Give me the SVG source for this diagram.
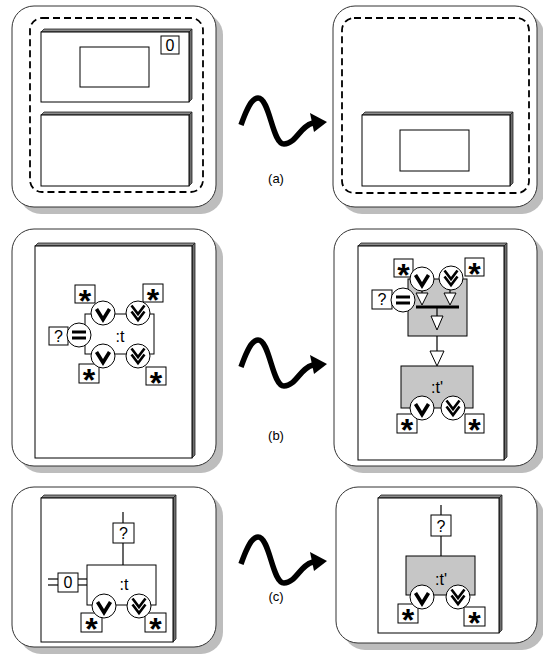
<svg xmlns="http://www.w3.org/2000/svg" width="543" height="660" viewBox="0 0 543 660">
<style>
.shadow{fill:#bdbdbd}
.panel{fill:#fff;stroke:#333;stroke-width:1}
.dash{fill:none;stroke:#000;stroke-width:1.8;stroke-dasharray:7 4}
.face{fill:#fff;stroke:#000;stroke-width:1}
.topb{fill:#8a8a8a;stroke:#222;stroke-width:0.8}
.sideb{fill:#6e6e6e;stroke:#222;stroke-width:0.8}
.box{fill:#fff;stroke:#000;stroke-width:1}
.gray{fill:#c6c6c6;stroke:#000;stroke-width:1}
.port{fill:#fff;stroke:#000;stroke-width:1}
.chev{fill:none;stroke:#000;stroke-width:3.6;stroke-linejoin:miter;stroke-miterlimit:10}
.chev2{fill:none;stroke:#000;stroke-width:2.6;stroke-linejoin:miter;stroke-miterlimit:10}
.eq{stroke:#000;stroke-width:3}
.ln{fill:none;stroke:#000;stroke-width:1.2}
.tri{fill:#fff;stroke:#000;stroke-width:1}
.bar{stroke:#000;stroke-width:3}
.sq{fill:none;stroke:#000;stroke-width:5.5;stroke-linecap:butt}
.txt{font-family:"Liberation Sans",Arial,sans-serif;font-size:16px;fill:#000;text-anchor:middle}
.lbl{font-family:"Liberation Sans",Arial,sans-serif;font-size:13px;fill:#000;text-anchor:middle}
.star{font-family:"Liberation Sans",Arial,sans-serif;font-weight:bold;font-size:32px;fill:#000;text-anchor:middle}
</style>
<defs>
<g id="vmark"><polyline class="chev" points="-6.5,-5 0,5.5 6.5,-5"/></g>
<g id="vvmark"><polyline class="chev2" points="-6.5,-7.5 0,1 6.5,-7.5"/><polyline class="chev2" points="-6.5,-1.5 0,7 6.5,-1.5"/></g>
<g id="eqmark"><line class="eq" x1="-7" y1="-3" x2="7" y2="-3"/><line class="eq" x1="-7" y1="3" x2="7" y2="3"/></g>
</defs>

<!-- ===== panels ===== -->
<g id="panel-a-left">
<rect class="shadow" x="19" y="13" width="204" height="201" rx="22"/>
<rect class="panel" x="12" y="6" width="204" height="201" rx="22"/>
<rect class="dash" x="30" y="18" width="173" height="174" rx="12"/>
</g>
<g id="panel-a-right">
<rect class="shadow" x="340" y="13" width="204" height="201" rx="22"/>
<rect class="panel" x="333" y="6" width="204" height="201" rx="22"/>
<rect class="dash" x="342" y="18" width="187" height="175" rx="12"/>
</g>
<g id="panel-b-left">
<rect class="shadow" x="19" y="236" width="204" height="237" rx="22"/>
<rect class="panel" x="12" y="229" width="204" height="237" rx="22"/>
<polygon class="topb" points="35,246 38,243 195,243 192,246"/>
<polygon class="sideb" points="192,246 195,243 195,455 192,458"/>
<rect class="face" x="35" y="246" width="157" height="212"/>
</g>
<g id="panel-b-right">
<rect class="shadow" x="341" y="236" width="203" height="237" rx="22"/>
<rect class="panel" x="334" y="229" width="203" height="237" rx="22"/>
<polygon class="topb" points="358,246 361,243 507,243 504,246"/>
<polygon class="sideb" points="504,246 507,243 507,457 504,460"/>
<rect class="face" x="358" y="246" width="146" height="214"/>
</g>
<g id="panel-c-left">
<rect class="shadow" x="19" y="494" width="204" height="160" rx="22"/>
<rect class="panel" x="12" y="487" width="204" height="160" rx="22"/>
<polygon class="topb" points="41,498 44,495 176,495 173,498"/>
<polygon class="sideb" points="173,498 176,495 176,639 173,642"/>
<rect class="face" x="41" y="498" width="132" height="144"/>
</g>
<g id="panel-c-right">
<rect class="shadow" x="343" y="494" width="201" height="156" rx="22"/>
<rect class="panel" x="336" y="487" width="201" height="156" rx="22"/>
<polygon class="topb" points="378,498 381,495 502,495 499,498"/>
<polygon class="sideb" points="499,498 502,495 502,630 499,633"/>
<rect class="face" x="378" y="498" width="121" height="135"/>
</g>

<!-- ===== row (a) contents ===== -->
<g id="a-left-box1">
<polygon class="topb" points="41,32 44,29 192,29 189,32"/>
<polygon class="sideb" points="189,32 192,29 192,99 189,102"/>
<rect class="face" x="41" y="32" width="148" height="70"/>
<rect class="box" x="80" y="47" width="69" height="40"/>
</g>
<g id="a-left-0"><rect class="box" x="161" y="36" width="18" height="18"/><text class="txt" x="170" y="51">0</text></g>
<g id="a-left-box2">
<polygon class="topb" points="41,115 44,112 192,112 189,115"/>
<polygon class="sideb" points="189,115 192,112 192,183 189,186"/>
<rect class="face" x="41" y="115" width="148" height="71"/>
</g>
<g id="a-right-box">
<polygon class="topb" points="362,115 365,112 513,112 510,115"/>
<polygon class="sideb" points="510,115 513,112 513,183 510,186"/>
<rect class="face" x="362" y="115" width="148" height="71"/>
<rect class="box" x="400" y="130" width="69" height="41"/>
</g>

<!-- ===== gray / frame nodes under connectors ===== -->
<g id="b-left-t">
<rect class="box" x="85" y="314" width="69" height="40"/>
<text class="txt" x="120" y="342">:t</text>
</g>
<g id="b-right-join"><rect class="gray" x="408" y="279" width="59" height="57"/></g>
<g id="b-right-t">
<rect class="gray" x="401" y="366" width="72" height="42"/>
<text class="txt" x="437" y="393">:t'</text>
</g>
<g id="c-left-t">
<rect class="box" x="87" y="565" width="69" height="40"/>
<text class="txt" x="124" y="590">:t</text>
</g>
<g id="c-right-t">
<rect class="gray" x="406" y="556" width="69" height="39"/>
<text class="txt" x="441" y="585">:t'</text>
</g>

<!-- ===== connectors ===== -->
<g id="connectors">
<line class="ln" x1="422" y1="289" x2="422" y2="293"/>
<polygon class="tri" points="416,293 428,293 422,305"/>
<line class="ln" x1="450" y1="289" x2="450" y2="293"/>
<polygon class="tri" points="444,293 456,293 450,305"/>
<line class="bar" x1="416" y1="307" x2="459" y2="307"/>
<line class="ln" x1="437" y1="307" x2="437" y2="316"/>
<polygon class="tri" points="431,316 443,316 437,330"/>
<line class="ln" x1="437" y1="336" x2="437" y2="351"/>
<polygon class="tri" points="430,351 444,351 437,366"/>
<line class="ln" x1="123" y1="512" x2="123" y2="523"/>
<line class="ln" x1="123" y1="543" x2="123" y2="565"/>
<line class="ln" x1="48" y1="579" x2="58" y2="579"/>
<line class="ln" x1="48" y1="585" x2="58" y2="585"/>
<line class="ln" x1="78" y1="579" x2="87" y2="579"/>
<line class="ln" x1="78" y1="585" x2="87" y2="585"/>
<line class="ln" x1="441" y1="505" x2="441" y2="515"/>
<line class="ln" x1="441" y1="536" x2="441" y2="556"/>
</g>

<!-- ===== row (b) left nodes ===== -->
<g id="b-left-q"><rect class="box" x="49" y="327" width="19" height="18"/><text class="txt" x="58.5" y="342">?</text></g>
<g id="b-left-s1"><rect class="box" x="75" y="285" width="20" height="18"/><text class="star" x="85" y="311.5">*</text></g>
<g id="b-left-s2"><rect class="box" x="143" y="284" width="20" height="18"/><text class="star" x="153" y="310.5">*</text></g>
<g id="b-left-s3"><rect class="box" x="79" y="364" width="20" height="19"/><text class="star" x="89" y="391">*</text></g>
<g id="b-left-s4"><rect class="box" x="146" y="367" width="20" height="18"/><text class="star" x="156" y="393.5">*</text></g>
<g id="b-left-p1"><circle class="port" cx="103" cy="313" r="12"/><use href="#vmark" x="103" y="314"/></g>
<g id="b-left-p2"><circle class="port" cx="138" cy="313" r="12"/><use href="#vvmark" x="138" y="313"/></g>
<g id="b-left-p3"><circle class="port" cx="79" cy="335" r="12"/><use href="#eqmark" x="79" y="335"/></g>
<g id="b-left-p4"><circle class="port" cx="103" cy="356" r="12"/><use href="#vmark" x="103" y="357"/></g>
<g id="b-left-p5"><circle class="port" cx="138" cy="356" r="12"/><use href="#vvmark" x="138" y="356"/></g>

<!-- ===== row (b) right nodes ===== -->
<g id="b-right-q"><rect class="box" x="372" y="290" width="20" height="19"/><text class="txt" x="382" y="305">?</text></g>
<g id="b-right-s1"><rect class="box" x="394" y="259" width="19" height="18"/><text class="star" x="403.5" y="285.5">*</text></g>
<g id="b-right-s2"><rect class="box" x="465" y="258" width="19" height="18"/><text class="star" x="474.5" y="284.5">*</text></g>
<g id="b-right-s3"><rect class="box" x="397" y="414" width="20" height="19"/><text class="star" x="407" y="441">*</text></g>
<g id="b-right-s4"><rect class="box" x="465" y="414" width="19" height="19"/><text class="star" x="474.5" y="441">*</text></g>
<g id="b-right-p1"><circle class="port" cx="422" cy="279" r="12"/><use href="#vmark" x="422" y="280"/></g>
<g id="b-right-p2"><circle class="port" cx="451" cy="278" r="12"/><use href="#vvmark" x="451" y="278"/></g>
<g id="b-right-p3"><circle class="port" cx="403" cy="300" r="12"/><use href="#eqmark" x="403" y="300"/></g>
<g id="b-right-p4"><circle class="port" cx="422" cy="408" r="12"/><use href="#vmark" x="422" y="409"/></g>
<g id="b-right-p5"><circle class="port" cx="453" cy="408" r="12"/><use href="#vvmark" x="453" y="408"/></g>

<!-- ===== row (c) nodes ===== -->
<g id="c-left-q"><rect class="box" x="113" y="523" width="21" height="20"/><text class="txt" x="123.5" y="539">?</text></g>
<g id="c-left-0"><rect class="box" x="58" y="573" width="20" height="19"/><text class="txt" x="68" y="588">0</text></g>
<g id="c-left-s1"><rect class="box" x="81" y="613" width="21" height="19"/><text class="star" x="91.5" y="640">*</text></g>
<g id="c-left-s2"><rect class="box" x="145" y="613" width="21" height="19"/><text class="star" x="155.5" y="640">*</text></g>
<g id="c-left-p1"><circle class="port" cx="104" cy="606" r="12"/><use href="#vmark" x="104" y="607"/></g>
<g id="c-left-p2"><circle class="port" cx="139" cy="606" r="12"/><use href="#vvmark" x="139" y="606"/></g>

<g id="c-right-q"><rect class="box" x="431" y="515" width="20" height="21"/><text class="txt" x="441" y="532">?</text></g>
<g id="c-right-s1"><rect class="box" x="398" y="604" width="20" height="19"/><text class="star" x="408" y="631">*</text></g>
<g id="c-right-s2"><rect class="box" x="464" y="607" width="21" height="19"/><text class="star" x="474.5" y="634">*</text></g>
<g id="c-right-p1"><circle class="port" cx="422" cy="597" r="12"/><use href="#vmark" x="422" y="598"/></g>
<g id="c-right-p2"><circle class="port" cx="458" cy="597" r="12"/><use href="#vvmark" x="458" y="597"/></g>

<!-- ===== transition arrows ===== -->
<g id="arrow-a">
<path class="sq" d="M241,125 C247,108 252,98 258,98 C270,98 272,144 284,144 C296,144 300,126 313,123"/>
<polygon points="327,122 310,113 314,132" fill="#000"/>
<text class="lbl" x="276" y="183">(a)</text>
</g>
<g id="arrow-b">
<path class="sq" transform="translate(0,242)" d="M241,125 C247,108 252,98 258,98 C270,98 272,144 284,144 C296,144 300,126 313,123"/>
<polygon transform="translate(0,242)" points="327,122 310,113 314,132" fill="#000"/>
<text class="lbl" x="276" y="440">(b)</text>
</g>
<g id="arrow-c">
<path class="sq" transform="translate(0,439)" d="M241,125 C247,108 252,98 258,98 C270,98 272,144 284,144 C296,144 300,126 313,123"/>
<polygon transform="translate(0,439)" points="327,122 310,113 314,132" fill="#000"/>
<text class="lbl" x="276" y="601">(c)</text>
</g>
</svg>
